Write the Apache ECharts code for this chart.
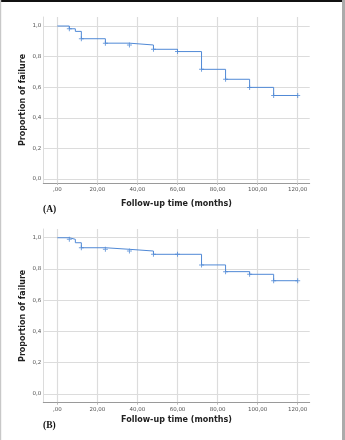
<!DOCTYPE html>
<html><head><meta charset="utf-8">
<script src="https://cdn.jsdelivr.net/npm/echarts@6/dist/echarts.min.js"></script>
<style>html,body{margin:0;padding:0;background:#fff}#c{width:345px;height:440px}</style>
</head><body><div id="c"></div>
<script>
// Panel A: Kaplan-Meier step (time in months, proportion)
const timesA = [0, 6, 9, 12, 24, 36, 48, 60, 72, 84, 96, 108, 120];
const valuesA = [1.0, 0.982, 0.965, 0.917, 0.888, 0.876, 0.848, 0.833, 0.717, 0.652, 0.599, 0.546, 0.546];
const censorTimesA = [6, 12, 24, 36, 48, 60, 72, 84, 96, 108, 120];
const censorValuesA = [0.982, 0.917, 0.888, 0.876, 0.848, 0.833, 0.717, 0.652, 0.599, 0.546, 0.546];
// Panel B
const timesB = [0, 6, 9, 12, 24, 36, 48, 60, 72, 84, 96, 108, 120];
const valuesB = [1.0, 0.990, 0.968, 0.936, 0.926, 0.915, 0.894, 0.894, 0.826, 0.783, 0.766, 0.725, 0.725];
const censorTimesB = [6, 12, 24, 36, 48, 60, 72, 84, 96, 108, 120];
const censorValuesB = [0.990, 0.936, 0.926, 0.915, 0.894, 0.894, 0.826, 0.783, 0.766, 0.725, 0.725];
// Tick labels
const xTicks = [0, 20, 40, 60, 80, 100, 120];
const yTicks = [0, 0.2, 0.4, 0.6, 0.8, 1.0];
const xTitle = 'Follow-up time (months)';
const yTitle = 'Proportion of failure';
const panelLabels = ['(A)', '(B)'];

const zip = (a, b) => a.map((v, i) => [v, b[i]]);
const blue = '#5089d6';
const plus = 'path://M4,0L6,0L6,4L10,4L10,6L6,6L6,10L4,10L4,6L0,6L0,4L4,4Z';
const xfmt = v => v === 0 ? ',00' : v.toFixed(2).replace('.', ',');
const yfmt = v => v.toFixed(1).replace('.', ',');

function xAxisFor(gi, gap) {
  return {
    type: 'value', gridIndex: gi, min: -7, max: 126,
    name: xTitle, nameLocation: 'middle', nameGap: gap, nameMoveOverlap: false,
    nameTextStyle: {fontFamily: 'DejaVu Sans', fontWeight: 'bold', fontSize: 8, color: '#222'},
    axisLine: {show: true, onZero: false, lineStyle: {color: '#9a9a9a', width: 1}},
    axisTick: {show: true, customValues: xTicks, length: 2, lineStyle: {color: '#bbb'}},
    axisLabel: {customValues: xTicks, formatter: xfmt, fontFamily: 'DejaVu Sans', fontSize: 5.5, color: '#555', margin: 4},
    splitLine: {show: true, lineStyle: {color: '#dcdcdc', width: 1.2}}
  };
}
function yAxisFor(gi, min, max) {
  return {
    type: 'value', gridIndex: gi, min: min, max: max,
    name: yTitle, nameLocation: 'middle', nameGap: 16, nameMoveOverlap: false,
    nameTextStyle: {fontFamily: 'DejaVu Sans', fontWeight: 'bold', fontSize: 8, color: '#222'},
    axisLine: {show: true, onZero: false, lineStyle: {color: '#dcdcdc', width: 1}},
    axisTick: {show: false, customValues: yTicks},
    axisLabel: {customValues: yTicks, formatter: yfmt, fontFamily: 'DejaVu Sans', fontSize: 5.5, color: '#555', margin: 2},
    splitLine: {show: true, lineStyle: {color: '#dcdcdc', width: 1.2}}
  };
}
function stepSeries(gi, t, v) {
  return {type: 'line', xAxisIndex: gi, yAxisIndex: gi, step: 'end', data: zip(t, v),
    showSymbol: false, lineStyle: {color: blue, width: 1}, silent: true, animation: false, z: 3};
}
function markSeries(gi, t, v) {
  return {type: 'scatter', xAxisIndex: gi, yAxisIndex: gi, data: zip(t, v),
    symbol: plus, symbolSize: 5, itemStyle: {color: blue}, silent: true, animation: false, z: 4};
}

const chart = echarts.init(document.getElementById('c'), null, {renderer: 'canvas'});
chart.setOption({
  backgroundColor: '#fff',
  animation: false,
  grid: [
    {left: 43.3, width: 266.4, top: 17, height: 166},
    {left: 43.3, width: 266.4, top: 229, height: 173.7}
  ],
  xAxis: [xAxisFor(0, 17), xAxisFor(1, 13)],
  yAxis: [yAxisFor(0, -0.026, 1.059), yAxisFor(1, -0.056, 1.056)],
  series: [
    stepSeries(0, timesA, valuesA), markSeries(0, censorTimesA, censorValuesA),
    stepSeries(1, timesB, valuesB), markSeries(1, censorTimesB, censorValuesB)
  ],
  graphic: [
    {type: 'rect', shape: {x: 0, y: 0, width: 345, height: 2}, style: {fill: '#111'}},
    {type: 'rect', shape: {x: 0, y: 0, width: 1.2, height: 440}, style: {fill: '#c8c8c8'}},
    {type: 'rect', shape: {x: 342, y: 0, width: 3, height: 440}, style: {fill: '#ababab'}},
    {type: 'text', left: 43, top: 205, style: {text: panelLabels[0], font: 'bold 9.5px "Liberation Serif"', fill: '#111'}},
    {type: 'text', left: 43, top: 421, style: {text: panelLabels[1], font: 'bold 9.5px "Liberation Serif"', fill: '#111'}}
  ]
});
</script></body></html>
